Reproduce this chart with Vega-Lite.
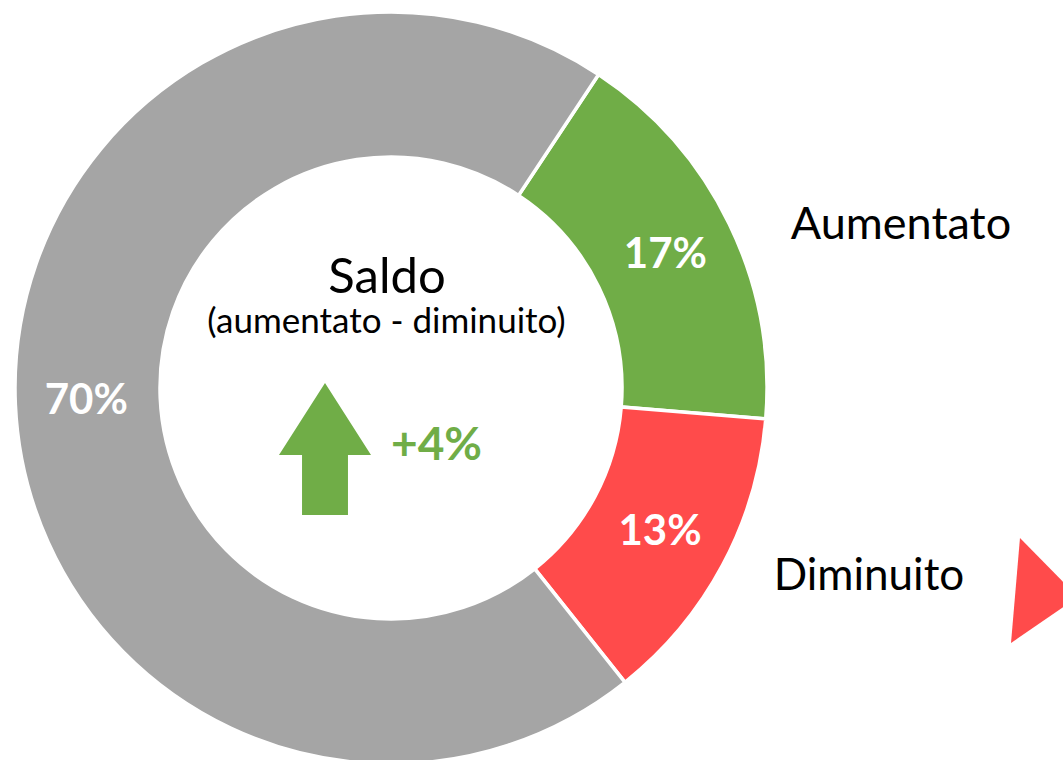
{
  "$schema": "https://vega.github.io/schema/vega-lite/v6.json",
  "width": 1063,
  "height": 760,
  "padding": 0,
  "autosize": {"type": "none"},
  "background": "white",
  "config": {"view": {"stroke": null}, "text": {"font": "Lato"}},
  "datasets": {
    "quote": [
      {"categoria": "Aumentato", "quota": 0.17, "ordine": 1},
      {"categoria": "Diminuito", "quota": 0.13, "ordine": 2},
      {"categoria": "Invariato", "quota": 0.70, "ordine": 3}
    ],
    "saldo": [
      {"voce": "Saldo", "valore": 0.04}
    ]
  },
  "encoding": {
    "x": {"type": "quantitative", "scale": {"domain": [0, 1063]}, "axis": null},
    "y": {"type": "quantitative", "scale": {"domain": [760, 0]}, "axis": null}
  },
  "layer": [
    {
      "data": {"name": "quote"},
      "mark": {"type": "arc", "outerRadius": 376, "innerRadius": 231, "stroke": "white", "strokeWidth": 3.5},
      "encoding": {
        "x": {"datum": 391},
        "y": {"datum": 388},
        "theta": {"field": "quota", "type": "quantitative", "stack": true, "scale": {"range": [0.585, 6.868]}},
        "order": {"field": "ordine", "type": "quantitative"},
        "color": {"field": "categoria", "type": "nominal", "legend": null,
          "scale": {"domain": ["Aumentato", "Diminuito", "Invariato"], "range": ["#70AD47", "#FF4B4B", "#A5A5A5"]}}
      }
    },
    {
      "data": {"name": "quote"},
      "mark": {"type": "text", "radius": 305, "fontSize": 42, "fontWeight": "bold", "color": "white", "align": "center", "baseline": "middle"},
      "encoding": {
        "x": {"datum": 391},
        "y": {"datum": 388},
        "theta": {"field": "quota", "type": "quantitative", "stack": true, "scale": {"range": [0.585, 6.868]}},
        "order": {"field": "ordine", "type": "quantitative"},
        "text": {"field": "quota", "type": "quantitative", "format": ".0%"}
      }
    },
    {
      "data": {"name": "saldo"},
      "mark": {"type": "text", "fontSize": 49, "color": "black", "align": "center", "baseline": "alphabetic"},
      "encoding": {"x": {"datum": 387}, "y": {"datum": 293}, "text": {"field": "voce", "type": "nominal"}}
    },
    {
      "data": {"name": "saldo"},
      "mark": {"type": "text", "fontSize": 35, "color": "black", "align": "center", "baseline": "alphabetic"},
      "encoding": {"x": {"datum": 386.5}, "y": {"datum": 333}, "text": {"value": "(aumentato - diminuito)"}}
    },
    {
      "data": {"name": "saldo"},
      "mark": {"type": "text", "fontSize": 46, "fontWeight": "bold", "color": "#70AD47", "align": "center", "baseline": "alphabetic"},
      "encoding": {"x": {"datum": 436.5}, "y": {"datum": 460}, "text": {"field": "valore", "type": "quantitative", "format": "+.0%"}}
    },
    {
      "data": {"name": "saldo"},
      "mark": {"type": "point", "filled": true, "opacity": 1, "color": "#70AD47", "strokeWidth": 0,
        "shape": "M0,-1 L0.697,0.09 L0.348,0.09 L0.348,1 L-0.348,1 L-0.348,0.09 L-0.697,0.09 Z", "size": 17424},
      "encoding": {"x": {"datum": 325}, "y": {"datum": 449}}
    },
    {
      "data": {"name": "saldo"},
      "mark": {"type": "text", "fontSize": 45, "color": "black", "align": "center", "baseline": "alphabetic"},
      "encoding": {"x": {"datum": 901}, "y": {"datum": 239}, "text": {"value": "Aumentato"}}
    },
    {
      "data": {"name": "saldo"},
      "mark": {"type": "text", "fontSize": 44, "color": "black", "align": "center", "baseline": "alphabetic"},
      "encoding": {"x": {"datum": 869}, "y": {"datum": 590}, "text": {"value": "Diminuito"}}
    },
    {
      "data": {"name": "saldo"},
      "mark": {"type": "point", "filled": true, "opacity": 1, "color": "#FF4B4B", "strokeWidth": 0, "clip": false,
        "shape": "M-0.467,-1 L0.638,0.124 L-0.638,1 Z", "size": 11025},
      "encoding": {"x": {"datum": 1044.5}, "y": {"datum": 590.5}}
    }
  ]
}
